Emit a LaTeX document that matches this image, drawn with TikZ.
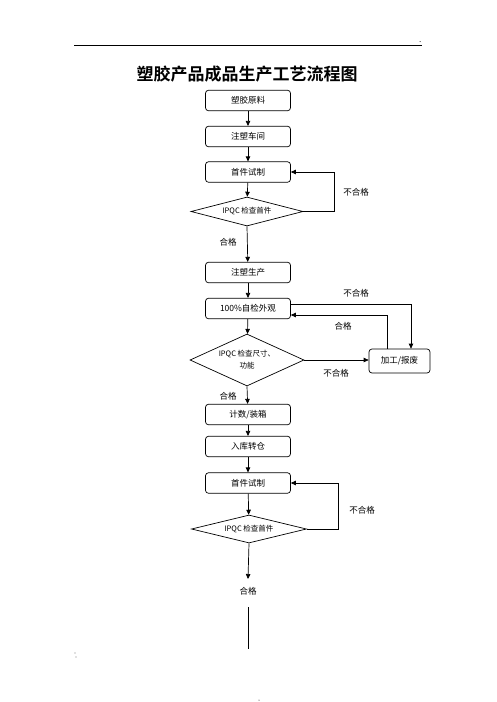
\documentclass[tikz,border=0pt]{standalone}
\usepackage{fontspec}
\newfontfamily\cjk{Noto Sans CJK SC}
\newfontfamily\cjkb{Noto Sans CJK SC Bold}
\usetikzlibrary{arrows.meta,shapes.geometric}
\begin{document}
\begin{tikzpicture}[x=1pt,y=-1pt,
  box/.style={draw, rounded corners=3pt, minimum width=85pt, minimum height=20.5pt, inner sep=0pt, line width=0.7pt, font=\cjk\fontsize{8.5}{10}\selectfont},
  dia/.style={draw, diamond, inner sep=0pt, line width=0.7pt, font=\cjk\fontsize{7.5}{12}\selectfont, align=center},
  lbl/.style={font=\cjk\fontsize{8.5}{10}\selectfont, inner sep=0pt},
  arr/.style={-{Triangle[length=5pt,width=4.5pt]}, line width=0.7pt},
  ln/.style={line width=0.7pt}]
\useasboundingbox (0,0) rectangle (496,702);
\fill[white] (0,0) rectangle (496,702);
% header rule and title
\coordinate (hl) at (74,45);
\coordinate (hr) at (422,45);
\draw[line width=0.9pt] (hl) -- (hr);
\fill (420,41.5) circle (0.5pt);
\node[font=\cjkb\fontsize{17}{20}\selectfont, inner sep=0pt] (title) at (247,74) {塑胶产品成品生产工艺流程图};
% nodes
\node[box] (b1) at (248,100.5) {塑胶原料};
\node[box] (b2) at (248,136.5) {注塑车间};
\node[box] (b3) at (248,172) {首件试制};
\node[dia, aspect=3.86, minimum width=112pt, minimum height=29pt] (d1) at (247,211.5) {IPQC 检查首件};
\node[box] (b4) at (248,272.5) {注塑生产};
\node[box] (b5) at (248,308.5) {100\%自检外观};
\node[dia, aspect=2.2, minimum width=114pt, minimum height=52pt] (d2) at (247,360) {IPQC 检查尺寸、\\功能};
\node[box, minimum width=61pt, minimum height=24pt] (b9) at (399.5,361) {加工/报废};
\node[box] (b6) at (248,414.5) {计数/装箱};
\node[box] (b7) at (248,446.5) {入库转仓};
\node[box] (b8) at (248,483) {首件试制};
\node[dia, aspect=4.1, minimum width=115pt, minimum height=28pt] (d3) at (249,529) {IPQC 检查首件};
\coordinate (e1) at (248,579);
\node[lbl] (ok4) at (248,591) {合格};
\coordinate (l1) at (248,607);
\coordinate (l2) at (248,649);
% labels
\node[lbl] (ng1) at (356,192) {不合格};
\node[lbl] (ok1) at (228,242) {合格};
\node[lbl] (ng2) at (356,293) {不合格};
\node[lbl] (ok2) at (343,326) {合格};
\node[lbl] (ng3) at (336,373) {不合格};
\node[lbl] (ok3) at (228,396) {合格};
\node[lbl] (ng4) at (362,510) {不合格};
% connectors
\draw[arr] (b1) -- (b2);
\draw[arr] (b2) -- (b3);
\draw[arr] (b3) -- (d1);
\draw[arr] (d1.south) -- (b4);
\draw[arr] (d1.east) -- (334,211.5) |- (b3.east);
\draw[arr] (b4) -- (b5);
\draw[arr] (b5) -- (d2);
\draw[arr] ([yshift=4.5pt]b5.east) -| ([xshift=11.5pt]b9.north);
\draw[arr] ([xshift=-12.5pt]b9.north) |- ([yshift=-6.5pt]b5.east);
\draw[arr] (d2.east) -- (b9.west |- d2.east);
\draw[arr] (d2.south) -- (b6);
\draw[arr] (b6) -- (b7);
\draw[arr] (b7) -- (b8);
\draw[arr] (b8) -- (d3);
\draw[arr] (d3.east) -- (338,529) |- (b8.east);
\draw[arr] (d3.south) -- (e1);
\draw[ln] (l1) -- (l2);
% stray marks
\fill (259,700) circle (0.5pt);
\fill[gray] (75,653) circle (0.6pt);
\fill[gray] (76,657) circle (0.6pt);
\end{tikzpicture}
\end{document}
